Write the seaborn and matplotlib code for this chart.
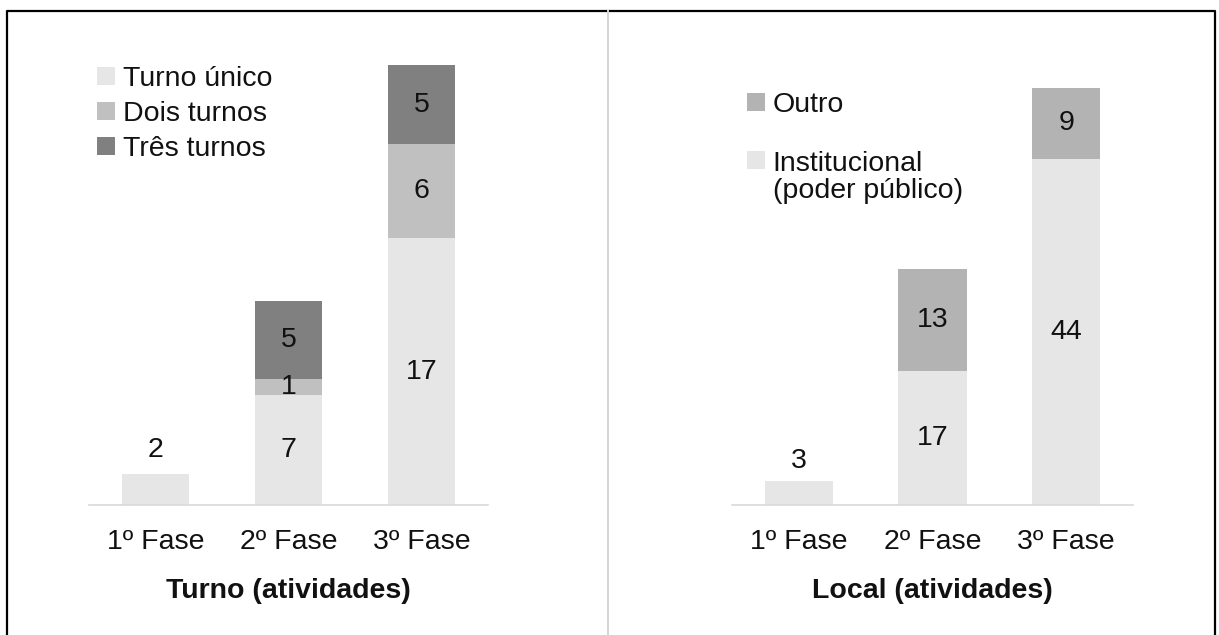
import matplotlib
matplotlib.use("Agg")
import matplotlib.pyplot as plt
from matplotlib.patches import Patch, Rectangle
from matplotlib.lines import Line2D
from matplotlib.legend_handler import HandlerPatch
import numpy as np
import seaborn as sns

# ---- data -------------------------------------------------------------
fases = ["1º Fase", "2º Fase", "3º Fase"]

# Turno (atividades)
turno_unico = [2, 7, 17]
dois_turnos = [0, 1, 6]
tres_turnos = [0, 5, 5]
turno_labels = ["Turno único", "Dois turnos", "Três turnos"]
turno_colors = ["#e6e6e6", "#c0c0c0", "#808080"]

# Local (atividades)
institucional = [3, 17, 44]
outro = [0, 13, 9]
local_labels = ["Institucional\n(poder público)", "Outro"]
local_colors = ["#e6e6e6", "#b3b3b3"]

# ---- style ------------------------------------------------------------
sns.set_theme(style="white")
plt.rcParams["font.family"] = ["Liberation Sans", "DejaVu Sans"]
TXT = "#111111"
AXIS_GREY = "#d9d9d9"
FS = 20.5

W, H = 1219, 635
fig = plt.figure(figsize=(W / 100, H / 100), dpi=100)
fig.patch.set_facecolor("white")


def px_axes(x0, x1, y_base, y_top):
    return fig.add_axes([x0 / W, 1 - y_base / H, (x1 - x0) / W, (y_base - y_top) / H])


def stacked(ax, series, colors, ymax, above_offset):
    series = [np.asarray(s, dtype=float) for s in series]
    cums = np.cumsum(series, axis=0)
    # draw tallest cumulative layer first, lower layers on top of it
    for cum, col in reversed(list(zip(cums, colors))):
        sns.barplot(x=fases, y=cum, color=col, width=0.51, ax=ax,
                    linewidth=0, saturation=1)
    # value labels
    for i in range(len(fases)):
        vals = [s[i] for s in series]
        nonzero = [k for k, v in enumerate(vals) if v > 0]
        if len(nonzero) == 1:
            top = cums[-1][i]
            ax.annotate(f"{int(vals[nonzero[0]])}", (i, top),
                        xytext=(0, above_offset), textcoords="offset points",
                        ha="center", va="center", fontsize=FS, color=TXT)
        else:
            for k in nonzero:
                lo = cums[k][i] - vals[k]
                ax.text(i, lo + vals[k] / 2, f"{int(vals[k])}", ha="center",
                        va="center", fontsize=FS, color=TXT)
    ax.set_xlim(-0.5, len(fases) - 0.5)
    ax.set_ylim(0, ymax)
    for s in ("left", "right", "top"):
        ax.spines[s].set_visible(False)
    ax.spines["bottom"].set_color(AXIS_GREY)
    ax.spines["bottom"].set_linewidth(1.2)
    ax.set_yticks([])
    ax.set_ylabel("")
    ax.set_xticks(range(len(fases)))
    ax.set_xticklabels(fases, fontsize=FS, color=TXT)
    ax.tick_params(axis="x", which="major", length=0, pad=17)
    ax.set_xticks(np.arange(-0.5, len(fases), 1.0), minor=True)
    ax.tick_params(axis="x", which="minor", length=5, width=1.0,
                   color=AXIS_GREY, direction="out")
    ax.set_facecolor("none")


def top_aligned_square(legend, orig_handle, xdescent, ydescent, width, height, fontsize):
    # keep the swatch beside the first line of a two-line label
    return Rectangle((-xdescent, -ydescent + 0.6 * fontsize), width, height)


# ---- left panel: Turno ------------------------------------------------
axL = px_axes(89, 488, 505, 40)
stacked(axL, [turno_unico, dois_turnos, tres_turnos], turno_colors,
        ymax=(505 - 40) / 15.7, above_offset=17)
axL.set_xlabel("Turno (atividades)", fontsize=FS, fontweight="bold",
               color=TXT, labelpad=16.5)
hL = [Patch(facecolor=c, edgecolor="none") for c in turno_colors]
axL.legend(hL, turno_labels, loc="upper left",
           bbox_to_anchor=(97 / W, 1 - 66 / H), bbox_transform=fig.transFigure,
           frameon=False, fontsize=FS, handlelength=0.62, handleheight=0.62,
           handletextpad=0.28, labelspacing=0.32, borderpad=0, borderaxespad=0,
           labelcolor=TXT)

# ---- right panel: Local -----------------------------------------------
axR = px_axes(732, 1133, 505, 40)
stacked(axR, [institucional, outro], local_colors,
        ymax=(505 - 40) / 7.87, above_offset=15)
axR.set_xlabel("Local (atividades)", fontsize=FS, fontweight="bold",
               color=TXT, labelpad=16.5)
hR = [Patch(facecolor=c, edgecolor="none") for c in local_colors]
legR = axR.legend(hR[::-1], local_labels[::-1], loc="upper left",
                  bbox_to_anchor=(747 / W, 1 - 92 / H), bbox_transform=fig.transFigure,
                  frameon=False, fontsize=FS, handlelength=0.62, handleheight=0.62,
                  handletextpad=0.28, labelspacing=1.15, borderpad=0, borderaxespad=0,
                  labelcolor=TXT,
                  handler_map={hR[0]: HandlerPatch(patch_func=top_aligned_square)})
for t in legR.get_texts():
    t.set_linespacing(1.05)

# ---- frame and divider ------------------------------------------------
def fig_line(xs, ys, color, lw):
    fig.add_artist(Line2D([x / W for x in xs], [1 - y / H for y in ys],
                          color=color, linewidth=lw, solid_capstyle="projecting"))

fig_line([7, 7, 1215, 1215], [H + 5, 11, 11, H + 5], "black", 1.6)
fig_line([608, 608], [11, H + 5], "#d4d4d4", 1.4)

fig.savefig("out.png", dpi=100, facecolor="white")
